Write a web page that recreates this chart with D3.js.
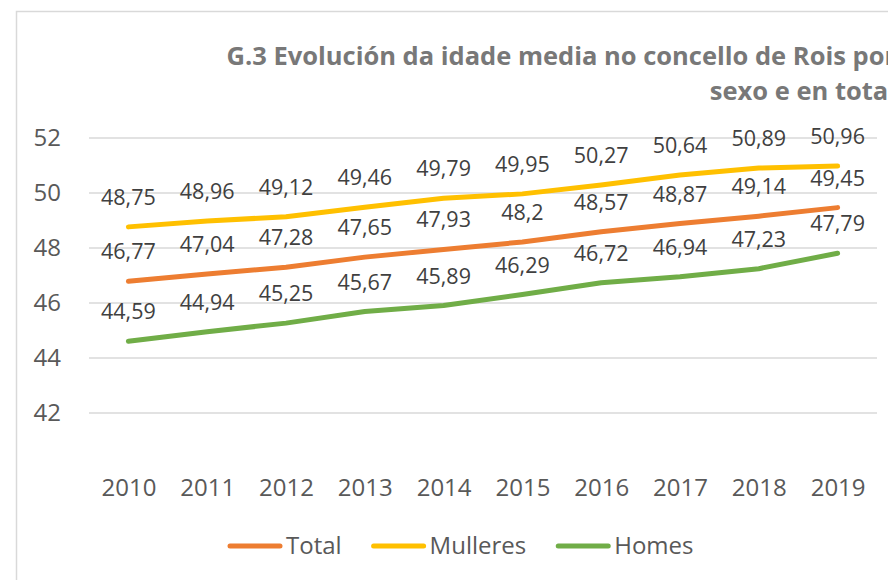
<!DOCTYPE html>
<html>
<head>
<meta charset="utf-8">
<script src="https://cdn.jsdelivr.net/npm/d3@7"></script>
<style>
    body { margin: 0; background: #fff; }
    #chart-area { width: 888px; height: 580px; }
    text { font-family: "Open Sans", sans-serif; }
</style>
</head>
<body>
<div id="chart-area"></div>
<script>

// data
let years = ["2010", "2011", "2012", "2013", "2014", "2015", "2016", "2017", "2018", "2019"];
let total = [46.77, 47.04, 47.28, 47.65, 47.93, 48.2, 48.57, 48.87, 49.14, 49.45];
let mulleres = [48.75, 48.96, 49.12, 49.46, 49.79, 49.95, 50.27, 50.64, 50.89, 50.96];
let homes = [44.59, 44.94, 45.25, 45.67, 45.89, 46.29, 46.72, 46.94, 47.23, 47.79];
let yTicks = [42, 44, 46, 48, 50, 52];
let titleLines = ["G.3 Evolución da idade media no concello de Rois por", "sexo e en total"];

let seriesList = [
    {name: "Total", values: total, color: "#ED7D31"},
    {name: "Mulleres", values: mulleres, color: "#FFC000"},
    {name: "Homes", values: homes, color: "#70AD47"}
];


class LineVis {

    constructor(parentElement, series) {
        this.parentElement = parentElement;
        this.series = series;
        this.initVis();
    }

    initVis() {
        let vis = this;

        vis.svg = d3.select("#" + vis.parentElement).append("svg")
            .attr("width", 888)
            .attr("height", 580);

        // chart border (runs off the right and bottom)
        vis.svg.append("rect")
            .attr("x", 16.5)
            .attr("y", 11.5)
            .attr("width", 900)
            .attr("height", 600)
            .attr("fill", "none")
            .attr("stroke", "#D9D9D9")
            .attr("stroke-width", 1.5);

        // title (cropped on the right, like the original)
        vis.svg.append("g")
            .attr("class", "title")
            .selectAll("text")
            .data(titleLines)
            .enter().append("text")
            .attr("x", 896)
            .attr("y", (d, i) => 65 + i * 35)
            .attr("text-anchor", "end")
            .attr("font-weight", 700)
            .attr("font-size", "25.5px")
            .attr("fill", "#787878")
            .text(d => d);

        // scales
        vis.x = d3.scalePoint()
            .domain(years)
            .range([89, 877])
            .padding(0.5);

        vis.y = d3.scaleLinear()
            .domain([42, 52])
            .range([412.5, 137.5]);

        // gridlines + y labels
        vis.yAxis = d3.axisLeft(vis.y)
            .tickValues(yTicks)
            .tickSize(-(877 - 89))
            .tickPadding(28)
            .tickFormat(d3.format("d"));

        vis.svg.append("g")
            .attr("class", "y-axis")
            .attr("transform", "translate(89,0)")
            .call(vis.yAxis)
            .call(g => g.select(".domain").remove())
            .call(g => g.selectAll("line").attr("stroke", "#D9D9D9").attr("stroke-width", 1.5))
            .call(g => g.selectAll("text")
                .attr("font-size", "24px")
                .attr("fill", "#595959")
                .attr("font-family", "Open Sans, sans-serif"));

        // x labels
        vis.xAxis = d3.axisBottom(vis.x)
            .tickSize(0)
            .tickPadding(0);

        vis.svg.append("g")
            .attr("class", "x-axis")
            .attr("transform", "translate(0,479)")
            .call(vis.xAxis)
            .call(g => g.select(".domain").remove())
            .call(g => g.selectAll("text")
                .attr("font-size", "24px")
                .attr("fill", "#595959")
                .attr("font-family", "Open Sans, sans-serif"));

        // lines
        vis.line = d3.line()
            .x((d, i) => vis.x(years[i]))
            .y(d => vis.y(d));

        vis.svg.selectAll(".series-line")
            .data(vis.series)
            .enter().append("path")
            .attr("class", "series-line")
            .attr("d", d => vis.line(d.values))
            .attr("fill", "none")
            .attr("stroke", d => d.color)
            .attr("stroke-width", 5)
            .attr("stroke-linecap", "round")
            .attr("stroke-linejoin", "round");

        // data labels above the points
        let fmt = v => String(v).replace(".", ",");
        vis.series.forEach(s => {
            vis.svg.append("g")
                .attr("class", "labels")
                .selectAll("text")
                .data(s.values)
                .enter().append("text")
                .attr("x", (d, i) => vis.x(years[i]))
                .attr("y", d => vis.y(d) - 22)
                .attr("text-anchor", "middle")
                .attr("font-size", "21.5px")
                .attr("fill", "#404040")
                .text(d => fmt(d));
        });

        // legend
        vis.legend = vis.svg.append("g").attr("class", "legend");
        let lx = 228;
        vis.series.forEach(s => {
            vis.legend.append("line")
                .attr("x1", lx + 2)
                .attr("x2", lx + 52)
                .attr("y1", 546)
                .attr("y2", 546)
                .attr("stroke", s.color)
                .attr("stroke-width", 5)
                .attr("stroke-linecap", "round");
            let t = vis.legend.append("text")
                .attr("x", lx + 58)
                .attr("y", 554)
                .attr("font-size", "24px")
                .attr("fill", "#595959")
                .text(s.name);
            lx = lx + 58 + t.node().getComputedTextLength() + 30;
        });
    }
}

let lineVis = new LineVis("chart-area", seriesList);

</script>
</body>
</html>
